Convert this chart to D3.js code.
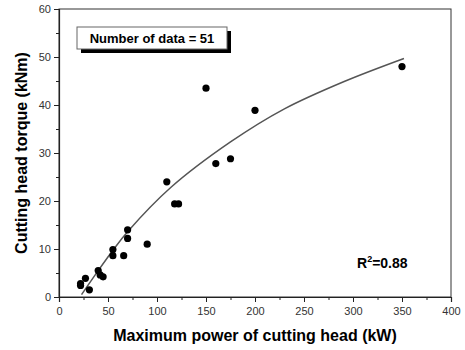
<!DOCTYPE html>
<html>
<head>
<meta charset="utf-8">
<script src="https://cdn.jsdelivr.net/npm/d3@7"></script>
<style>
  body { margin: 0; background: #fff; }
  svg { font-family: "Liberation Sans", Arial, sans-serif; }
</style>
</head>
<body>
<svg id="chart" width="465" height="350"></svg>
<script>
// measured points (power kW, torque kNm)
const powerKW = [350, 150, 200, 175, 160, 110, 118, 122, 90, 70, 70, 55, 55, 66, 40, 42, 45, 27, 22, 22, 31];
const torqueKNm = [48, 43.5, 38.9, 28.8, 27.8, 24, 19.4, 19.4, 11, 14, 12.2, 9.9, 8.6, 8.6, 5.5, 4.6, 4.2, 3.9, 2.8, 2.4, 1.5];

// fitted curve
const fitX = [23, 40, 56, 70, 114, 175, 230, 291, 352];
const fitY = [0.5, 5.5, 10.0, 13.6, 22.8, 32.3, 39.2, 44.9, 49.7];

const xTicks = [0, 50, 100, 150, 200, 250, 300, 350, 400];
const yTicks = [0, 10, 20, 30, 40, 50, 60];

const svg = d3.select("#chart");
const margin = { top: 9, right: 14, bottom: 53, left: 59 };
const width = 465 - margin.left - margin.right;
const height = 350 - margin.top - margin.bottom;

const g = svg.append("g").attr("transform", `translate(${margin.left},${margin.top})`);

const x = d3.scaleLinear().domain([0, 400]).range([0, width]);
const y = d3.scaleLinear().domain([0, 60]).range([height, 0]);

// frame
g.append("rect")
  .attr("width", width)
  .attr("height", height)
  .attr("fill", "none")
  .attr("stroke", "#333")
  .attr("stroke-width", 1);

// minor ticks first, then major ones with labels
g.append("g")
  .attr("transform", `translate(0,${height})`)
  .call(d3.axisBottom(x).tickValues(d3.range(25, 400, 50)).tickSize(3).tickFormat(""))
  .call(a => a.select(".domain").remove());
g.append("g")
  .call(d3.axisLeft(y).tickValues(d3.range(5, 60, 10)).tickSize(3).tickFormat(""))
  .call(a => a.select(".domain").remove());

const xAxis = g.append("g")
  .attr("transform", `translate(0,${height})`)
  .call(d3.axisBottom(x).tickValues(xTicks).tickSize(5).tickPadding(5));
const yAxis = g.append("g")
  .call(d3.axisLeft(y).tickValues(yTicks).tickSize(5).tickPadding(3));

[xAxis, yAxis].forEach(a => {
  a.select(".domain").attr("stroke", "#222").attr("stroke-width", 1.2);
  a.selectAll("text").attr("font-size", 11).attr("fill", "#333").attr("font-family", "Liberation Sans, Arial, sans-serif");
});
svg.selectAll(".tick line").attr("stroke", "#222");

// fit line
const line = d3.line()
  .x((d, i) => x(fitX[i]))
  .y(d => y(d))
  .curve(d3.curveCatmullRom);
g.append("path")
  .datum(fitY)
  .attr("d", line)
  .attr("fill", "none")
  .attr("stroke", "#555")
  .attr("stroke-width", 1.5);

// points
g.selectAll(".dot")
  .data(powerKW)
  .enter()
  .append("circle")
  .attr("class", "dot")
  .attr("cx", d => x(d))
  .attr("cy", (d, i) => y(torqueKNm[i]))
  .attr("r", 3.6)
  .attr("fill", "#000");

// label box with shadow
g.append("rect").attr("x", 22).attr("y", 22).attr("width", 150).attr("height", 22).attr("fill", "#000");
g.append("rect").attr("x", 18).attr("y", 18).attr("width", 150).attr("height", 22)
  .attr("fill", "#fff").attr("stroke", "#666").attr("stroke-width", 1);
g.append("text")
  .attr("x", 93).attr("y", 34)
  .attr("text-anchor", "middle")
  .attr("font-size", 13).attr("font-weight", "bold")
  .text("Number of data = 51");

// R squared
const r2 = g.append("text")
  .attr("x", width - 94).attr("y", 259)
  .attr("font-size", 14).attr("font-weight", "bold");
r2.append("tspan").text("R");
r2.append("tspan").attr("font-size", 9).attr("dy", -6).text("2");
r2.append("tspan").attr("dy", 6).text("=0.88");

// axis titles
svg.append("text")
  .attr("x", margin.left + width / 2)
  .attr("y", 341)
  .attr("text-anchor", "middle")
  .attr("font-size", 16).attr("font-weight", "bold")
  .text("Maximum power of cutting head (kW)");
svg.append("text")
  .attr("transform", `translate(27,${margin.top + height / 2}) rotate(-90)`)
  .attr("text-anchor", "middle")
  .attr("font-size", 16).attr("font-weight", "bold")
  .text("Cutting head torque (kNm)");
</script>
</body>
</html>
